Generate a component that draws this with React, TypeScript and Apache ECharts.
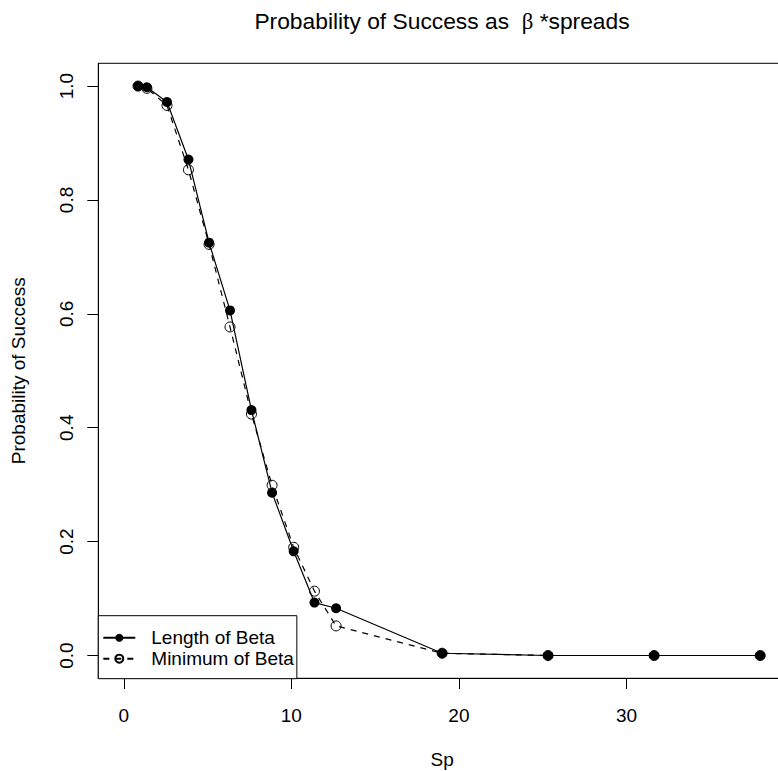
import React, { useEffect, useRef } from "react";
import * as echarts from "echarts";

const spValues = [0.85, 1.38, 2.58, 3.86, 5.09, 6.34, 7.62, 8.85, 10.14, 11.38, 12.67, 19.0, 25.32, 31.65, 37.98];
const lengthOfBeta = [1.0, 0.998, 0.972, 0.871, 0.725, 0.606, 0.431, 0.286, 0.183, 0.093, 0.083, 0.004, 0.0, 0.0, 0.0];
const minimumOfBeta = [1.0, 0.996, 0.966, 0.853, 0.722, 0.577, 0.424, 0.299, 0.19, 0.113, 0.052, 0.004, 0.0, 0.0, 0.0];
const xTicks = [0, 10, 20, 30];
const yTicks = [0, 0.2, 0.4, 0.6, 0.8, 1.0];
const seriesNames = ["Length of Beta", "Minimum of Beta"];

const FONT = "'Liberation Sans', Arial, Helvetica, sans-serif";
const X_MIN = -1.52;
const X_MAX = 39.52;
const Y_MIN = -0.04;
const Y_MAX = 1.04;

export default function App() {
  const ref = useRef<HTMLDivElement>(null);
  useEffect(() => {
    if (!ref.current) return;
    const chart = echarts.init(ref.current, null, { renderer: "svg" });
    const pairs = (ys: number[]) => spValues.map((x, i) => [x, ys[i]]);
    const titleGraphic = {
      id: "title",
      type: "text",
      x: 442,
      y: 21,
      style: {
        text: "{a|Probability of Success as  }{b|β}{a| *spreads}",
        textAlign: "center",
        textVerticalAlign: "middle",
        rich: {
          a: { fontFamily: FONT, fontSize: 22.8, fill: "#000" },
          b: { fontFamily: "'Liberation Serif', 'DejaVu Serif', serif", fontSize: 22.8, fill: "#000" },
        },
      },
    };
    chart.setOption({
      animation: false,
      backgroundColor: "#fff",
      textStyle: { fontFamily: FONT, color: "#000" },
      grid: {
        left: 98.3,
        top: 63.3,
        width: 687.7,
        height: 615,
        containLabel: false,
        outerBoundsMode: "none",
        show: true,
        borderColor: "#000",
        borderWidth: 1,
        backgroundColor: "transparent",
      },
      graphic: [titleGraphic],
      legend: {
        data: seriesNames,
        orient: "vertical",
        left: 98.3,
        top: 615.7,
        padding: [12, 3, 10, 4],
        itemGap: 1,
        itemWidth: 32,
        itemHeight: 10,
        borderColor: "#000",
        borderWidth: 1,
        backgroundColor: "#fff",
        z: 10,
        textStyle: { fontFamily: FONT, fontSize: 19, color: "#000", padding: [0, 0, 0, 11], lineHeight: 20 },
      },
      xAxis: {
        type: "value",
        position: "bottom",
        min: X_MIN,
        max: X_MAX,
        name: "Sp",
        nameLocation: "middle",
        nameGap: 72,
        nameTextStyle: { fontFamily: FONT, fontSize: 19, color: "#000" },
        axisLine: { show: true, onZero: false, lineStyle: { color: "#000", width: 1 } },
        axisTick: { show: false },
        axisLabel: { fontFamily: FONT, fontSize: 19, color: "#000", margin: 28, customValues: xTicks },
        splitLine: { show: false },
      },
      yAxis: {
        type: "value",
        position: "left",
        min: Y_MIN,
        max: Y_MAX,
        name: "Probability of Success",
        nameLocation: "middle",
        nameGap: 70,
        nameRotate: 90,
        nameTextStyle: { fontFamily: FONT, fontSize: 19, color: "#000" },
        axisLine: { show: true, onZero: false, lineStyle: { color: "#000", width: 1 } },
        axisTick: { show: true, inside: false, length: 11, lineStyle: { color: "#000", width: 1 }, customValues: yTicks },
        axisLabel: {
          fontFamily: FONT,
          fontSize: 19,
          color: "#000",
          rotate: 90,
          margin: 22,
          customValues: yTicks,
          formatter: (v: number) => v.toFixed(1),
        },
        splitLine: { show: false },
      },
      series: [
        {
          name: "Minimum of Beta",
          type: "line",
          data: pairs(minimumOfBeta),
          symbol: "circle",
          symbolSize: 10,
          z: 2,
          itemStyle: { color: "rgba(255,255,255,0)", borderColor: "#000", borderWidth: 1 },
          lineStyle: { color: "#000", width: 1.2, type: [6, 6] },
        },
        {
          name: "Length of Beta",
          type: "line",
          data: pairs(lengthOfBeta),
          symbol: "circle",
          symbolSize: 10,
          z: 3,
          itemStyle: { color: "#000", borderColor: "#000", borderWidth: 0 },
          lineStyle: { color: "#000", width: 1.2, type: "solid" },
        },
      ],
    });
    // x-axis tick marks placed through the chart's own scale
    const tickGraphics = xTicks.map((v, i) => {
      const p = chart.convertToPixel({ gridIndex: 0 }, [v, Y_MIN]) as number[];
      const px = Math.round(p[0]) + 0.5;
      const py = Math.round(p[1]);
      return {
        id: "xtick" + i,
        type: "line",
        z: 100,
        shape: { x1: px, y1: py, x2: px, y2: py + 11 },
        style: { stroke: "#000", lineWidth: 1 },
      };
    });
    chart.setOption({ graphic: [titleGraphic, ...tickGraphics] });
    return () => chart.dispose();
  }, []);
  return (
    <div
      ref={ref}
      style={{ position: "fixed", left: 0, top: 0, width: 778, height: 771, background: "#fff" }}
    />
  );
}
